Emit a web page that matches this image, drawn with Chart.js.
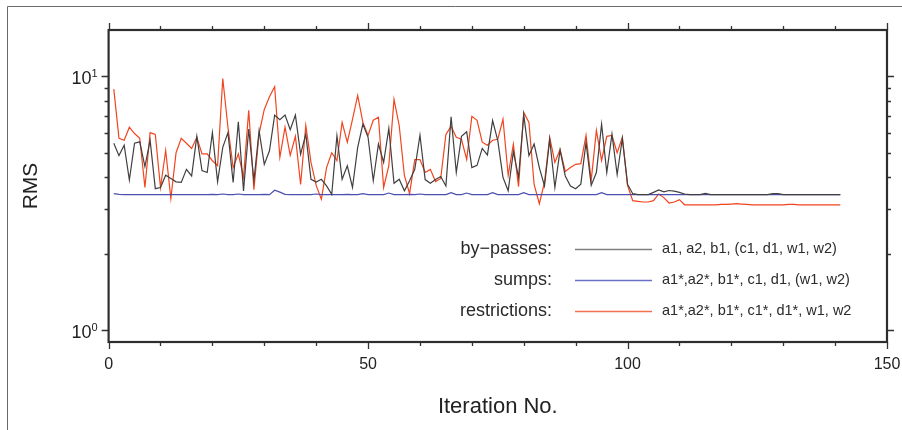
<!DOCTYPE html>
<html>
<head>
<meta charset="utf-8">
<title>RMS per iteration</title>
<script src="https://cdn.jsdelivr.net/npm/chart.js@4.4.1/dist/chart.umd.min.js"></script>
<style>
  html, body { margin: 0; padding: 0; background: #fff; }
  #wrap { width: 902px; height: 430px; }
</style>
</head>
<body>
<div id="wrap"><canvas id="rmsChart" width="902" height="430"></canvas></div>
<script>
// iteration numbers on the x axis
const iterations = [
  1, 2, 3, 4, 5, 6, 7, 8, 9, 10, 11, 12, 13, 14, 15, 16, 17, 18, 19, 20,
  21, 22, 23, 24, 25, 26, 27, 28, 29, 30, 31, 32, 33, 34, 35, 36, 37, 38, 39, 40,
  41, 42, 43, 44, 45, 46, 47, 48, 49, 50, 51, 52, 53, 54, 55, 56, 57, 58, 59, 60,
  61, 62, 63, 64, 65, 66, 67, 68, 69, 70, 71, 72, 73, 74, 75, 76, 77, 78, 79, 80,
  81, 82, 83, 84, 85, 86, 87, 88, 89, 90, 91, 92, 93, 94, 95, 96, 97, 98, 99, 100,
  101, 102, 103, 104, 105, 106, 107, 108, 109, 110, 111, 112, 113, 114, 115, 116, 117, 118, 119, 120,
  121, 122, 123, 124, 125, 126, 127, 128, 129, 130, 131, 132, 133, 134, 135, 136, 137, 138, 139, 140,
  141
];

// RMS values
const byPasses = [
  5.45, 4.87, 5.35, 3.9, 5.45, 5.52, 4.41, 5.6, 3.61, 3.65,
  4.08, 3.96, 3.84, 3.82, 4.3, 4.05, 5.8, 4.25, 4.18, 6.0,
  3.84, 5.25, 6.0, 3.82, 6.62, 3.54, 6.2, 3.88, 6.1, 4.5,
  5.09, 7.03, 6.75, 7.03, 6.16, 7.03, 4.93, 5.92, 3.93, 3.83,
  3.93, 3.7, 3.43, 5.83, 3.93, 4.44, 3.65, 5.25, 6.48, 5.75,
  3.88, 5.41, 4.58, 6.23, 3.79, 3.93, 3.54, 3.88, 4.3, 5.86,
  3.92, 3.79, 3.92, 4.03, 3.7, 6.93, 4.18, 5.8, 6.05, 4.37,
  4.46, 5.2, 4.9, 6.69, 5.58, 4.0, 3.54, 5.05, 4.0, 7.05,
  4.87, 5.41, 4.37, 3.7, 5.64, 3.65, 5.12, 4.05, 3.7, 3.61,
  3.76, 5.49, 3.72, 4.18, 6.48, 4.18, 5.92, 4.1, 5.69, 3.76,
  3.45, 3.42, 3.42, 3.42, 3.49, 3.57, 3.51, 3.55, 3.53, 3.49,
  3.44, 3.42, 3.42, 3.42, 3.46, 3.42, 3.42, 3.42, 3.42, 3.42,
  3.42, 3.42, 3.42, 3.42, 3.42, 3.42, 3.42, 3.45, 3.45, 3.42,
  3.42, 3.42, 3.42, 3.42, 3.42, 3.42, 3.42, 3.42, 3.42, 3.42,
  3.42
];

const sumps = [
  3.45, 3.43, 3.42, 3.42, 3.42, 3.42, 3.42, 3.42, 3.42, 3.42,
  3.42, 3.42, 3.42, 3.42, 3.42, 3.42, 3.42, 3.42, 3.42, 3.43,
  3.42, 3.44, 3.42, 3.42, 3.44, 3.42, 3.42, 3.42, 3.42, 3.43,
  3.42, 3.56, 3.5, 3.43, 3.42, 3.42, 3.42, 3.42, 3.42, 3.44,
  3.42, 3.42, 3.42, 3.42, 3.42, 3.43, 3.42, 3.42, 3.45, 3.42,
  3.42, 3.42, 3.42, 3.47, 3.42, 3.42, 3.42, 3.43, 3.42, 3.44,
  3.42, 3.42, 3.42, 3.42, 3.42, 3.48, 3.42, 3.42, 3.47, 3.42,
  3.42, 3.42, 3.42, 3.48, 3.42, 3.42, 3.42, 3.42, 3.42, 3.48,
  3.42, 3.42, 3.42, 3.42, 3.42, 3.42, 3.42, 3.42, 3.42, 3.42,
  3.42, 3.42, 3.42, 3.42, 3.48, 3.42, 3.42, 3.42, 3.42, 3.42,
  3.42, 3.42, 3.42, 3.42, 3.42, 3.42, 3.42, 3.42, 3.42, 3.42,
  3.42, 3.42, 3.42, 3.42, 3.42, 3.42, 3.42, 3.42, 3.42, 3.42,
  3.42, 3.42, 3.42, 3.42, 3.42, 3.42, 3.42, 3.42, 3.42, 3.42,
  3.42, 3.42, 3.42, 3.42, 3.42, 3.42, 3.42, 3.42, 3.42, 3.42,
  3.42
];

const restrictions = [
  8.9, 5.7, 5.6, 6.3, 5.95, 5.7, 3.65, 6.0, 5.9, 3.65,
  5.1, 3.3, 5.0, 5.7, 5.45, 5.2, 5.75, 4.95, 4.95, 4.65,
  4.45, 9.8, 6.3, 4.37, 4.95, 4.0, 7.35, 3.58, 5.95, 7.4,
  8.3, 9.1, 4.8, 6.3, 4.88, 5.8, 3.75, 6.4, 4.58, 3.72,
  3.28, 4.37, 5.0, 4.66, 6.58, 5.5, 6.77, 8.4, 6.58, 5.85,
  6.71, 6.9, 3.65, 4.45, 8.1, 6.4, 4.07, 3.45, 4.7, 4.7,
  4.18, 4.3, 3.85, 3.96, 5.9, 6.35, 5.75, 5.65, 4.7, 6.95,
  6.71, 5.5, 5.35, 5.6, 5.65, 6.77, 4.07, 5.4, 3.68, 7.2,
  6.58, 3.75, 3.15, 3.82, 5.75, 4.58, 5.15, 4.22, 4.37, 4.5,
  4.53, 5.85, 3.89, 6.12, 4.66, 5.8, 5.85, 5.0, 5.75, 3.72,
  3.24, 3.22, 3.2, 3.2, 3.24, 3.44, 3.33, 3.17, 3.2, 3.27,
  3.12, 3.12, 3.12, 3.12, 3.12, 3.12, 3.12, 3.13, 3.13, 3.14,
  3.15, 3.14, 3.13, 3.12, 3.12, 3.12, 3.12, 3.12, 3.12, 3.12,
  3.13, 3.13, 3.12, 3.12, 3.12, 3.12, 3.12, 3.12, 3.12, 3.12,
  3.12
];

// axis ticks and legend text
const xLabelTicks = [0, 50, 100, 150];
const xMinorTicks = [0, 10, 20, 30, 40, 50, 60, 70, 80, 90, 100, 110, 120, 130, 140, 150];
const yLabelTicks = [1, 10];
const yLabelExps = ['0', '1'];
const yMinorTicks = [1, 2, 3, 4, 5, 6, 7, 8, 9, 10];
const seriesNames = ['by\u2212passes:', 'sumps:', 'restrictions:'];
const seriesNotes = [
  'a1, a2, b1, (c1, d1, w1, w2)',
  'a1*,a2*, b1*, c1, d1, (w1, w2)',
  'a1*,a2*, b1*, c1*, d1*, w1, w2'
];

const FONT = '"Liberation Sans", Arial, Helvetica, sans-serif';
const lineColors = ['#404040', '#4b4fb0', '#f2441e'];
const legendColors = ['#808080', '#6a70c4', '#f47050'];

// frame, mirrored ticks, axis labels, outer border, legend
const framePlugin = {
    id: 'frame',
    afterDatasetsDraw(chart) {
        const ctx = chart.ctx;
        const a = chart.chartArea;
        const xs = chart.scales.x;
        const ys = chart.scales.y;
        ctx.save();

        // outer figure border
        ctx.strokeStyle = '#6a6a6a';
        ctx.lineWidth = 1;
        ctx.beginPath();
        ctx.moveTo(7.5, 440);
        ctx.lineTo(7.5, 6.5);
        ctx.lineTo(910, 6.5);
        ctx.stroke();

        // tick marks on all four sides, pointing out
        ctx.strokeStyle = '#333';
        ctx.lineWidth = 1.3;
        ctx.beginPath();
        yMinorTicks.forEach(v => {
            const py = Math.round(ys.getPixelForValue(v)) + 0.5;
            const len = yLabelTicks.includes(v) ? 7 : 4;
            ctx.moveTo(a.left - len, py);
            ctx.lineTo(a.left, py);
            ctx.moveTo(a.right, py);
            ctx.lineTo(a.right + len, py);
        });
        xMinorTicks.forEach(v => {
            const px = Math.round(xs.getPixelForValue(v)) + 0.5;
            const len = xLabelTicks.includes(v) ? 7 : 4;
            ctx.moveTo(px, a.bottom);
            ctx.lineTo(px, a.bottom + len);
            ctx.moveTo(px, a.top - len);
            ctx.lineTo(px, a.top);
        });
        ctx.stroke();

        // plot frame
        ctx.strokeStyle = '#2e2e2e';
        ctx.lineWidth = 2.2;
        ctx.strokeRect(a.left, a.top, a.right - a.left, a.bottom - a.top);

        // x labels
        ctx.fillStyle = '#222';
        ctx.font = '16px ' + FONT;
        ctx.textAlign = 'center';
        ctx.textBaseline = 'middle';
        xLabelTicks.forEach(v => {
            ctx.fillText(String(v), xs.getPixelForValue(v), a.bottom + 23);
        });

        // y labels: 10^0, 10^1
        yLabelTicks.forEach((v, i) => {
            const py = ys.getPixelForValue(v);
            ctx.font = '11px ' + FONT;
            const supW = ctx.measureText(yLabelExps[i]).width;
            const right = a.left - 11;
            ctx.textAlign = 'left';
            ctx.textBaseline = 'alphabetic';
            ctx.fillText(yLabelExps[i], right - supW, py + 1);
            ctx.font = '18px ' + FONT;
            ctx.textAlign = 'right';
            ctx.fillText('10', right - supW, py + 8);
        });

        // legend inside the plot
        const rowY = [249, 280, 311];
        seriesNames.forEach((name, i) => {
            const yy = rowY[i];
            ctx.font = '18px ' + FONT;
            ctx.textAlign = 'right';
            ctx.textBaseline = 'middle';
            ctx.fillStyle = '#2a2a2a';
            ctx.fillText(name, 552, yy);
            ctx.strokeStyle = legendColors[i];
            ctx.lineWidth = 1.6;
            ctx.beginPath();
            ctx.moveTo(575, yy + 0.5);
            ctx.lineTo(652, yy + 0.5);
            ctx.stroke();
            ctx.font = '14.5px ' + FONT;
            ctx.textAlign = 'left';
            ctx.fillText(seriesNotes[i], 662, yy);
        });
        ctx.restore();
    }
};

const ctx = document.getElementById('rmsChart').getContext('2d');
const rmsChart = new Chart(ctx, {
    type: 'line',
    data: {
        labels: iterations,
        datasets: [
            { label: 'by-passes', data: byPasses, borderColor: lineColors[0] },
            { label: 'sumps', data: sumps, borderColor: lineColors[1] },
            { label: 'restrictions', data: restrictions, borderColor: lineColors[2] }
        ]
    },
    options: {
        responsive: false,
        animation: false,
        layout: { autoPadding: false, padding: { top: 30, right: 15, left: 0, bottom: 0 } },
        elements: {
            point: { radius: 0 },
            line: { borderWidth: 1.2, tension: 0 }
        },
        plugins: {
            legend: { display: false },
            tooltip: { enabled: false }
        },
        scales: {
            x: {
                type: 'linear',
                min: 0,
                max: 150,
                grid: { display: false, drawTicks: false },
                border: { display: false },
                ticks: { display: false },
                afterFit: scale => { scale.height = 88; },
                title: {
                    display: true,
                    text: 'Iteration No.',
                    color: '#222',
                    font: { family: FONT, size: 22 },
                    padding: { top: 0, bottom: 10 }
                }
            },
            y: {
                type: 'logarithmic',
                min: 0.9,
                max: 15.2,
                grid: { display: false, drawTicks: false },
                border: { display: false },
                ticks: { display: false },
                afterFit: scale => { scale.width = 108.6; },
                title: {
                    display: true,
                    text: 'RMS',
                    color: '#222',
                    font: { family: FONT, size: 21 },
                    padding: { top: 19, bottom: 0 }
                }
            }
        }
    },
    plugins: [framePlugin]
});
</script>
</body>
</html>
